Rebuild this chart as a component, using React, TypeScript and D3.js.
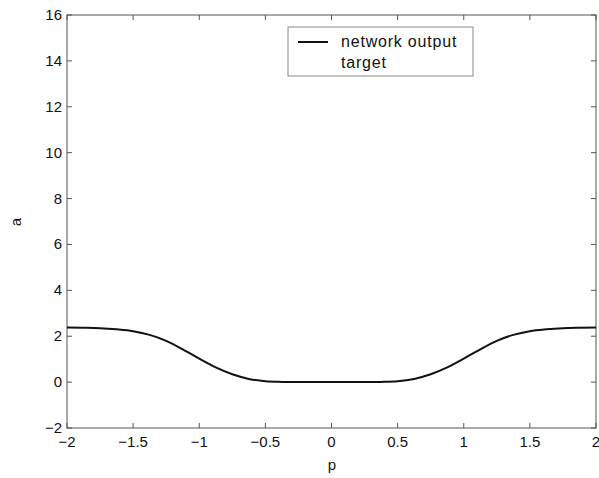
import React from "react";
import * as d3 from "d3";

const pValues = [-2, -1.875, -1.75, -1.625, -1.5, -1.375, -1.25, -1.125, -1, -0.875, -0.75, -0.625, -0.5, -0.375, -0.25, 0, 0.25, 0.375, 0.5, 0.625, 0.75, 0.875, 1, 1.125, 1.25, 1.375, 1.5, 1.625, 1.75, 1.875, 2];
const networkOutput = [2.38, 2.37, 2.35, 2.3, 2.22, 2.06, 1.8, 1.43, 1.02, 0.64, 0.34, 0.14, 0.04, 0.01, 0.0, 0.0, 0.0, 0.01, 0.04, 0.14, 0.34, 0.64, 1.02, 1.43, 1.8, 2.06, 2.22, 2.3, 2.35, 2.37, 2.38];
const xTicks = [-2, -1.5, -1, -0.5, 0, 0.5, 1, 1.5, 2];
const xTickLabels = ["-2", "-1.5", "-1", "-0.5", "0", "0.5", "1", "1.5", "2"];
const yTicks = [-2, 0, 2, 4, 6, 8, 10, 12, 14, 16];
const legendLabels = ["network output", "target"];

const W = 599;
const H = 478;
const left = 67, right = 596, top = 15, bottom = 428;

export default function App() {
  const x = d3.scaleLinear().domain([-2, 2]).range([left, right]);
  const y = d3.scaleLinear().domain([-2, 16]).range([bottom, top]);
  const line = d3
    .line<number>()
    .x((_, i) => x(pValues[i]))
    .y((d) => y(d))
    .curve(d3.curveMonotoneX);
  const font = "Liberation Sans, Arial, sans-serif";
  return (
    <svg width={W} height={H} style={{ position: "absolute", left: 0, top: 0, background: "#fff" }} fontFamily={font}>
      <rect x={0} y={0} width={W} height={H} fill="#fff" />
      <rect x={left} y={top} width={right - left} height={bottom - top} fill="none" stroke="#555" strokeWidth={1} />
      {xTicks.map((t, i) => (
        <g key={"x" + i}>
          <line x1={x(t)} x2={x(t)} y1={bottom} y2={bottom - 5} stroke="#555" />
          <line x1={x(t)} x2={x(t)} y1={top} y2={top + 5} stroke="#555" />
          <text x={x(t)} y={bottom + 19} fontSize={15} textAnchor="middle" fill="#111">
            {xTickLabels[i].replace("-", "\u2212")}
          </text>
        </g>
      ))}
      {yTicks.map((t, i) => (
        <g key={"y" + i}>
          <line x1={left} x2={left + 5} y1={y(t)} y2={y(t)} stroke="#555" />
          <line x1={right} x2={right - 5} y1={y(t)} y2={y(t)} stroke="#555" />
          <text x={left - 5} y={y(t) + 5} fontSize={15} textAnchor="end" fill="#111">
            {String(t).replace("-", "\u2212")}
          </text>
        </g>
      ))}
      <path d={line(networkOutput) || ""} fill="none" stroke="#111" strokeWidth={2} />
      <rect x={288} y={27} width={185} height={49} fill="#fff" stroke="#888" strokeWidth={1} />
      <line x1={298} x2={328} y1={42} y2={42} stroke="#111" strokeWidth={2} />
      <text x={341} y={47} fontSize={16} letterSpacing={0.8} fill="#111">{legendLabels[0]}</text>
      <text x={341} y={68} fontSize={16} letterSpacing={0.8} fill="#111">{legendLabels[1]}</text>
      <text x={332} y={470} fontSize={15} textAnchor="middle" fill="#111">p</text>
      <text x={0} y={0} fontSize={15} textAnchor="middle" fill="#111" transform={`translate(21,222) rotate(-90)`}>a</text>
    </svg>
  );
}
